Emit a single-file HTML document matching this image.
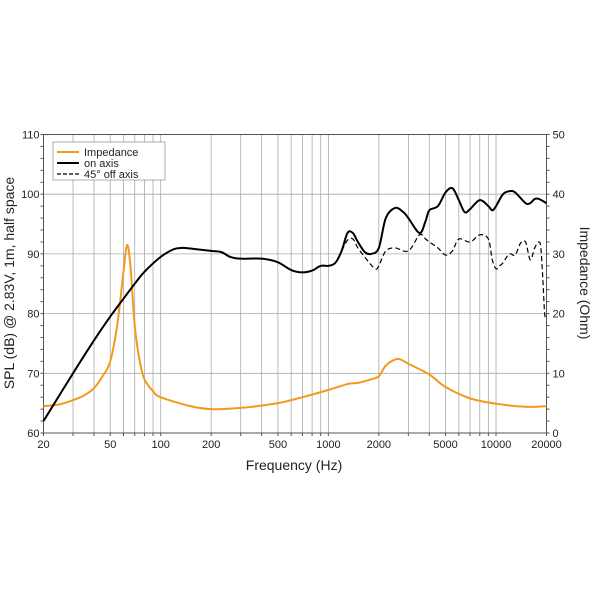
<!DOCTYPE html>
<html><head><meta charset="utf-8"><style>
html,body{margin:0;padding:0;background:#fff;}
svg{display:block;font-family:"Liberation Sans",Arial,sans-serif;}
</style></head><body>
<svg id="s" width="600" height="600" viewBox="0 0 600 600" xmlns="http://www.w3.org/2000/svg">
<g id="grid"></g>
<rect x="43.5" y="134.5" width="503" height="298.5" fill="none" stroke="#555" stroke-width="1"/>
<g id="curves"></g>
<g id="labels" font-size="11" fill="#222"></g>
<text x="294" y="470" font-size="14" text-anchor="middle" fill="#222">Frequency (Hz)</text>
<text transform="translate(14,283) rotate(-90)" font-size="14" text-anchor="middle" fill="#222">SPL (dB) @ 2.83V, 1m, half space</text>
<text transform="translate(580,283) rotate(90)" font-size="14" text-anchor="middle" fill="#222">Impedance (Ohm)</text>
<rect x="53" y="142" width="112" height="38" fill="#fff" stroke="#999" stroke-width="0.8"/>
<line x1="57" y1="152" x2="79" y2="152" stroke="#f39a1c" stroke-width="2"/>
<line x1="57" y1="163" x2="79" y2="163" stroke="#000" stroke-width="2"/>
<line x1="57" y1="174" x2="79" y2="174" stroke="#000" stroke-width="1.2" stroke-dasharray="4,2"/>
<text x="84" y="156" font-size="11" fill="#222">Impedance</text>
<text x="84" y="167" font-size="11" fill="#222">on axis</text>
<text x="84" y="178" font-size="11" fill="#222">45° off axis</text>
</svg>
<script>
const L=43.5,R=546.5,T=134.5,B=433;
const X=f=>L+(R-L)*Math.log10(f/20)/3;
const Y=d=>B-(d-60)*(B-T)/50;
const Yo=o=>B-o*(B-T)/50;
const ns="http://www.w3.org/2000/svg";
function el(p,t,a,txt){const e=document.createElementNS(ns,t);for(const k in a)e.setAttribute(k,a[k]);if(txt!=null)e.textContent=txt;document.getElementById(p).appendChild(e);return e;}
for(let dec of [10,100,1000,10000])for(let m=1;m<10;m++){const f=dec*m;if(f<20||f>20000)continue;const x=X(f);
 el("grid","line",{x1:x,x2:x,y1:T,y2:B,stroke:"#aaa","stroke-width":0.8});
 el("grid","line",{x1:x,x2:x,y1:B,y2:B+3,stroke:"#555"});}
for(let d=60;d<=110;d+=10){el("grid","line",{x1:L,x2:R,y1:Y(d),y2:Y(d),stroke:"#aaa","stroke-width":0.8});
 el("labels","text",{x:L-4,y:Y(d)+4,"text-anchor":"end"},d);
 el("labels","text",{x:R+6,y:Y(d)+4},(d-60));}
for(let d=60;d<=110;d+=2){el("grid","line",{x1:L-3,x2:L,y1:Y(d),y2:Y(d),stroke:"#555"});el("grid","line",{x1:R,x2:R+3,y1:Y(d),y2:Y(d),stroke:"#555"});}
[[20,"20"],[50,"50"],[100,"100"],[200,"200"],[500,"500"],[1000,"1000"],[2000,"2000"],[5000,"5000"],[10000,"10000"],[20000,"20000"]].forEach(([f,t])=>el("labels","text",{x:X(f),y:448,"text-anchor":"middle"},t));
function path(pts,yf){
 const P=pts.map(([f,v])=>[X(f),yf(v)]);let d="M"+P[0][0]+","+P[0][1];
 for(let i=0;i<P.length-1;i++){const p0=P[i-1]||P[i],p1=P[i],p2=P[i+1],p3=P[i+2]||p2;
  const c1=[p1[0]+(p2[0]-p0[0])/6,p1[1]+(p2[1]-p0[1])/6],c2=[p2[0]-(p3[0]-p1[0])/6,p2[1]-(p3[1]-p1[1])/6];
  d+=" C"+c1+" "+c2+" "+p2;}
 return d;}
const on=[[20,62],[30,70],[40,75.5],[50,79.5],[60,82.5],[70,85],[80,87],[100,89.5],[120,90.8],[135,91],[150,90.9],[200,90.5],[230,90.3],[260,89.5],[300,89.2],[400,89.2],[500,88.6],[600,87.3],[700,86.9],[800,87.2],[900,88],[1000,88],[1100,88.5],[1200,90.5],[1300,93.5],[1400,93.5],[1500,92],[1650,90.3],[1800,90],[2000,91],[2200,96],[2500,97.7],[2800,97],[3000,96],[3500,93.5],[3800,95.5],[4000,97.3],[4500,98],[5000,100.3],[5500,101],[6000,99],[6500,97],[7000,97.5],[8000,99],[9000,98],[9500,97.3],[10000,98],[11000,100],[12000,100.5],[13000,100.3],[15000,98.5],[16000,98.5],[17000,99.2],[18000,99.2],[20000,98.5]];
const off=on.filter(p=>p[0]<=1200).concat([[1300,92.3],[1400,92.5],[1500,91],[1700,89],[1900,87.5],[2000,88],[2200,90.5],[2500,91],[3000,90.5],[3500,93.2],[3800,92.5],[4000,92],[4500,91],[5000,89.8],[5500,90.5],[6000,92.5],[7000,92],[8000,93.2],[9000,92.5],[9500,89],[10000,87.5],[10500,88],[11000,88.5],[12000,90],[13000,89.8],[14000,91.8],[15000,92],[16000,89],[17000,91],[18000,92],[18500,91],[19000,86],[19500,80],[20000,79]]);
const imp=[[20,4.5],[25,4.8],[30,5.5],[35,6.3],[40,7.5],[45,9.5],[50,12],[55,18],[60,27],[63,31.5],[66,28],[70,18],[75,12],[80,9],[90,7],[100,6],[150,4.5],[200,4],[300,4.2],[500,5],[700,6],[1000,7.2],[1300,8.2],[1500,8.4],[1800,9],[2000,9.5],[2200,11.3],[2500,12.3],[2700,12.3],[3000,11.6],[4000,9.8],[5000,7.7],[7000,5.8],[10000,4.9],[15000,4.4],[20000,4.5]];
el("curves","path",{d:path(imp,Yo),fill:"none",stroke:"#f39a1c","stroke-width":2});
el("curves","path",{d:path(off,Y),fill:"none",stroke:"#000","stroke-width":1.2,"stroke-dasharray":"5,3"});
el("curves","path",{d:path(on,Y),fill:"none",stroke:"#000","stroke-width":2});
</script>
</body></html>
